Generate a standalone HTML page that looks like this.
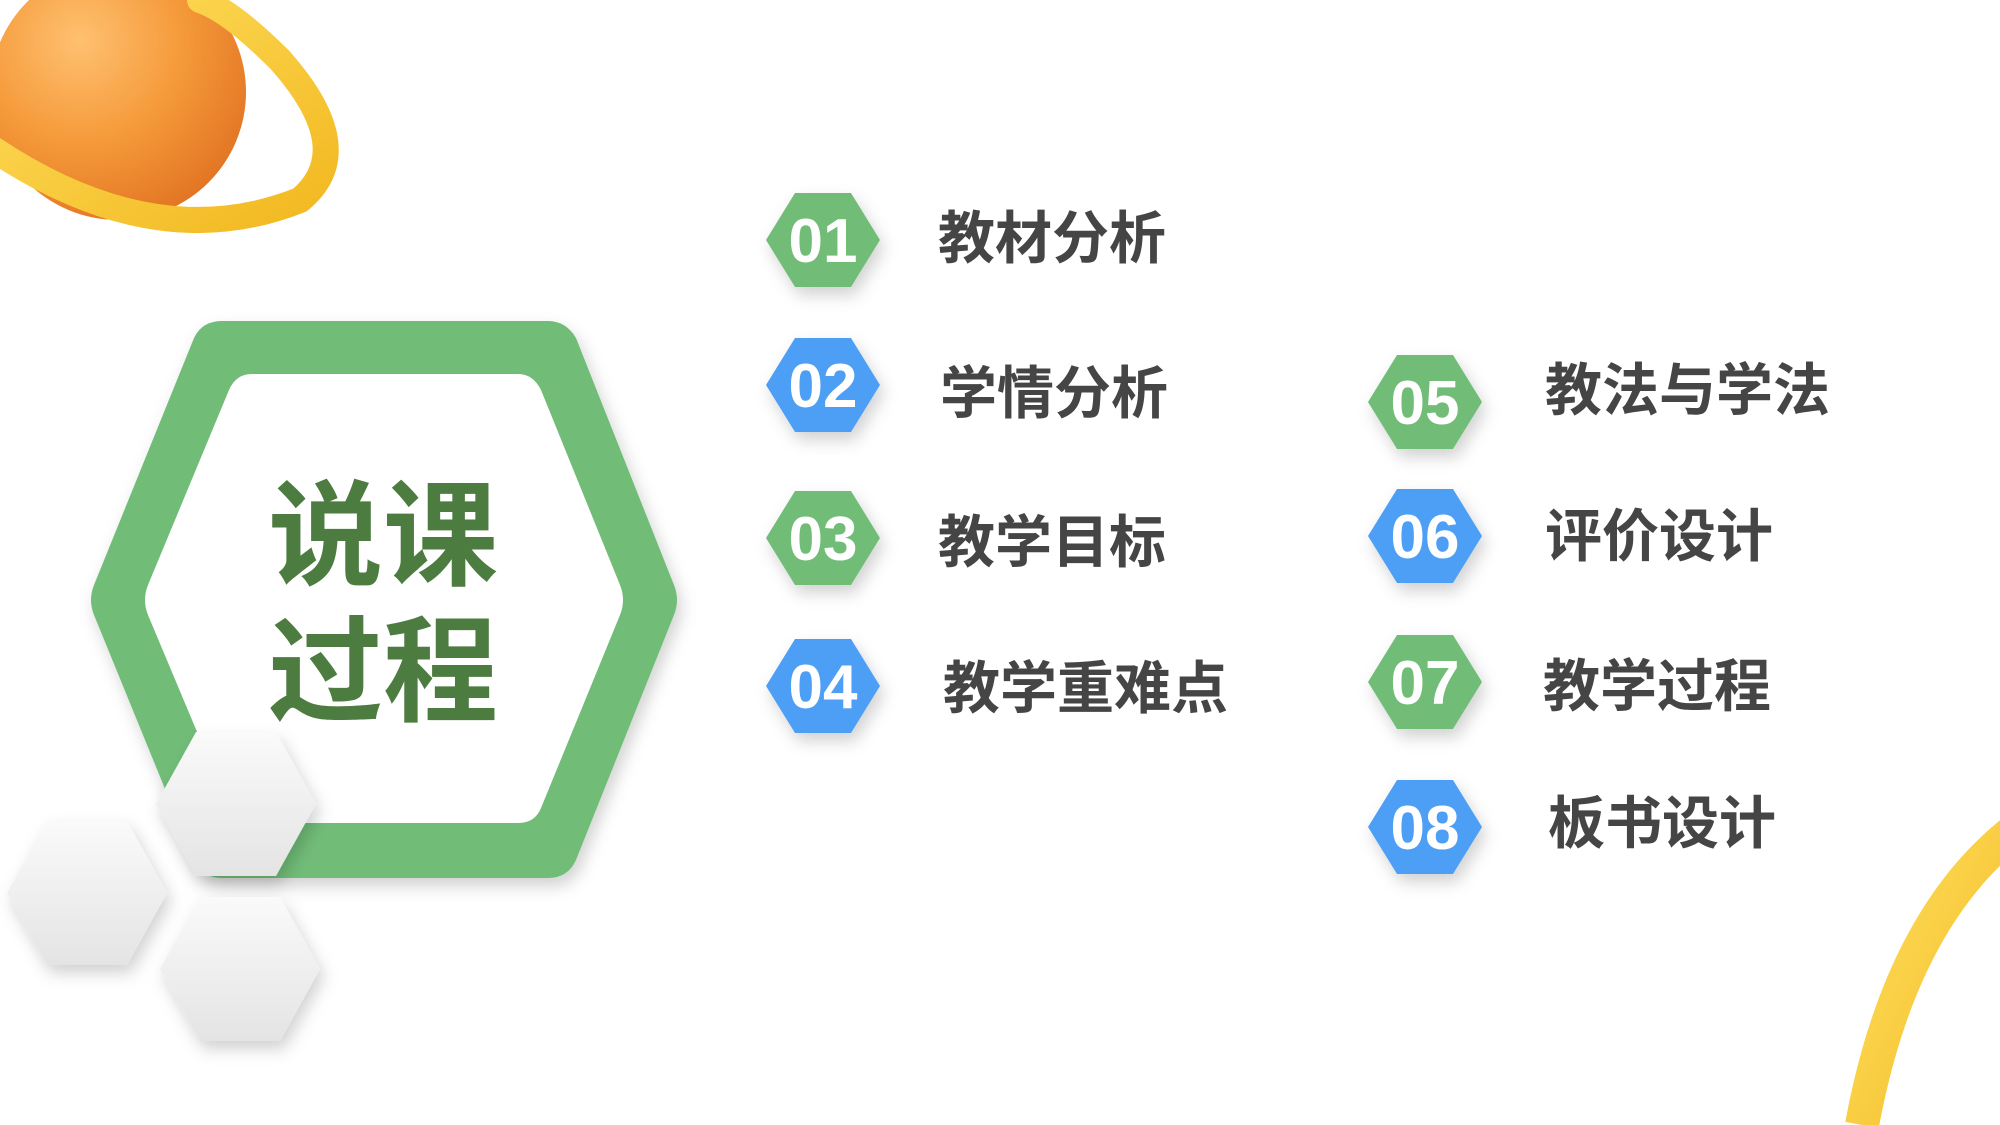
<!DOCTYPE html>
<html><head><meta charset="utf-8"><style>
html,body{margin:0;padding:0;background:#fff;}
svg{display:block}
text{font-family:"Liberation Sans","Noto Sans CJK SC",sans-serif;font-weight:bold}
</style></head><body>
<svg width="2000" height="1125" viewBox="0 0 2000 1125" xmlns="http://www.w3.org/2000/svg">
<defs>
<radialGradient id="ball" cx="0.35" cy="0.3" r="0.8">
<stop offset="0" stop-color="#ffc070"/><stop offset="0.5" stop-color="#f59a3a"/><stop offset="1" stop-color="#e07020"/></radialGradient>
<linearGradient id="ring" x1="0" y1="0" x2="1" y2="1"><stop offset="0" stop-color="#ffe060"/><stop offset="1" stop-color="#f2b820"/></linearGradient>
<linearGradient id="gray" x1="0" y1="0" x2="0" y2="1"><stop offset="0" stop-color="#fafafa"/><stop offset="1" stop-color="#e4e4e4"/></linearGradient>
<filter id="sh" x="-30%" y="-30%" width="160%" height="160%"><feDropShadow dx="4" dy="8" stdDeviation="8" flood-color="#000" flood-opacity="0.18"/></filter>
</defs>
<circle cx="118" cy="92" r="128" fill="url(#ball)"/>
<path d="M-20 140 Q150 260 300 200 Q360 150 280 60 Q230 10 200 0" fill="none" stroke="url(#ring)" stroke-width="26" stroke-linecap="round"/>
<path d="M2015 830 Q1900 920 1862 1125" fill="none" stroke="url(#ring)" stroke-width="34"/>
<g filter="url(#sh)">
<path d="M222 321 L548 321 Q566 321 576 338 L674 585 Q680 600 674 615 L576 860 Q568 878 548 878 L222 878 Q202 878 194 860 L94 615 Q88 600 94 585 L194 338 Q202 321 222 321 Z" fill="#71bd78"/>
<path d="M252 374 L518 374 Q533 374 541 390 L620 585 Q626 600 620 615 L541 808 Q535 823 518 823 L252 823 Q236 823 229 808 L148 615 Q142 600 148 585 L229 390 Q236 374 252 374 Z" fill="#fff"/>
</g>
<text x="383" y="576" font-size="115" fill="#4d7c40" text-anchor="middle">说课</text>
<text x="383" y="712" font-size="115" fill="#4d7c40" text-anchor="middle">过程</text>
<g filter="url(#sh)" fill="url(#gray)">
<polygon points="196,732 276,732 316,804 276,876 196,876 156,804"/>
<polygon points="47,821 127,821 167,893 127,965 47,965 7,893"/>
<polygon points="200,897 280,897 320,969 280,1041 200,1041 160,969"/>
</g>
<g filter="url(#sh)">
<polygon points="795,193 851,193 880,240 851,287 795,287 766,240" fill="#71bd78"/>
<polygon points="795,338 851,338 880,385 851,432 795,432 766,385" fill="#4e9ff5"/>
<polygon points="795,491 851,491 880,538 851,585 795,585 766,538" fill="#71bd78"/>
<polygon points="795,639 851,639 880,686 851,733 795,733 766,686" fill="#4e9ff5"/>
<polygon points="1397,355 1453,355 1482,402 1453,449 1397,449 1368,402" fill="#71bd78"/>
<polygon points="1397,489 1453,489 1482,536 1453,583 1397,583 1368,536" fill="#4e9ff5"/>
<polygon points="1397,635 1453,635 1482,682 1453,729 1397,729 1368,682" fill="#71bd78"/>
<polygon points="1397,780 1453,780 1482,827 1453,874 1397,874 1368,827" fill="#4e9ff5"/>
</g>
<g font-size="62" fill="#fff" text-anchor="middle">
<text x="823" y="262">01</text><text x="823" y="407">02</text><text x="823" y="560">03</text><text x="823" y="708">04</text>
<text x="1425" y="424">05</text><text x="1425" y="558">06</text><text x="1425" y="704">07</text><text x="1425" y="849">08</text>
</g>
<g font-size="57" fill="#454545">
<text x="938" y="258">教材分析</text><text x="940" y="413">学情分析</text><text x="938" y="562">教学目标</text><text x="943" y="708">教学重难点</text>
<text x="1545" y="410">教法与学法</text><text x="1545" y="556">评价设计</text><text x="1543" y="706">教学过程</text><text x="1548" y="843">板书设计</text>
</g>
</svg>
</body></html>
